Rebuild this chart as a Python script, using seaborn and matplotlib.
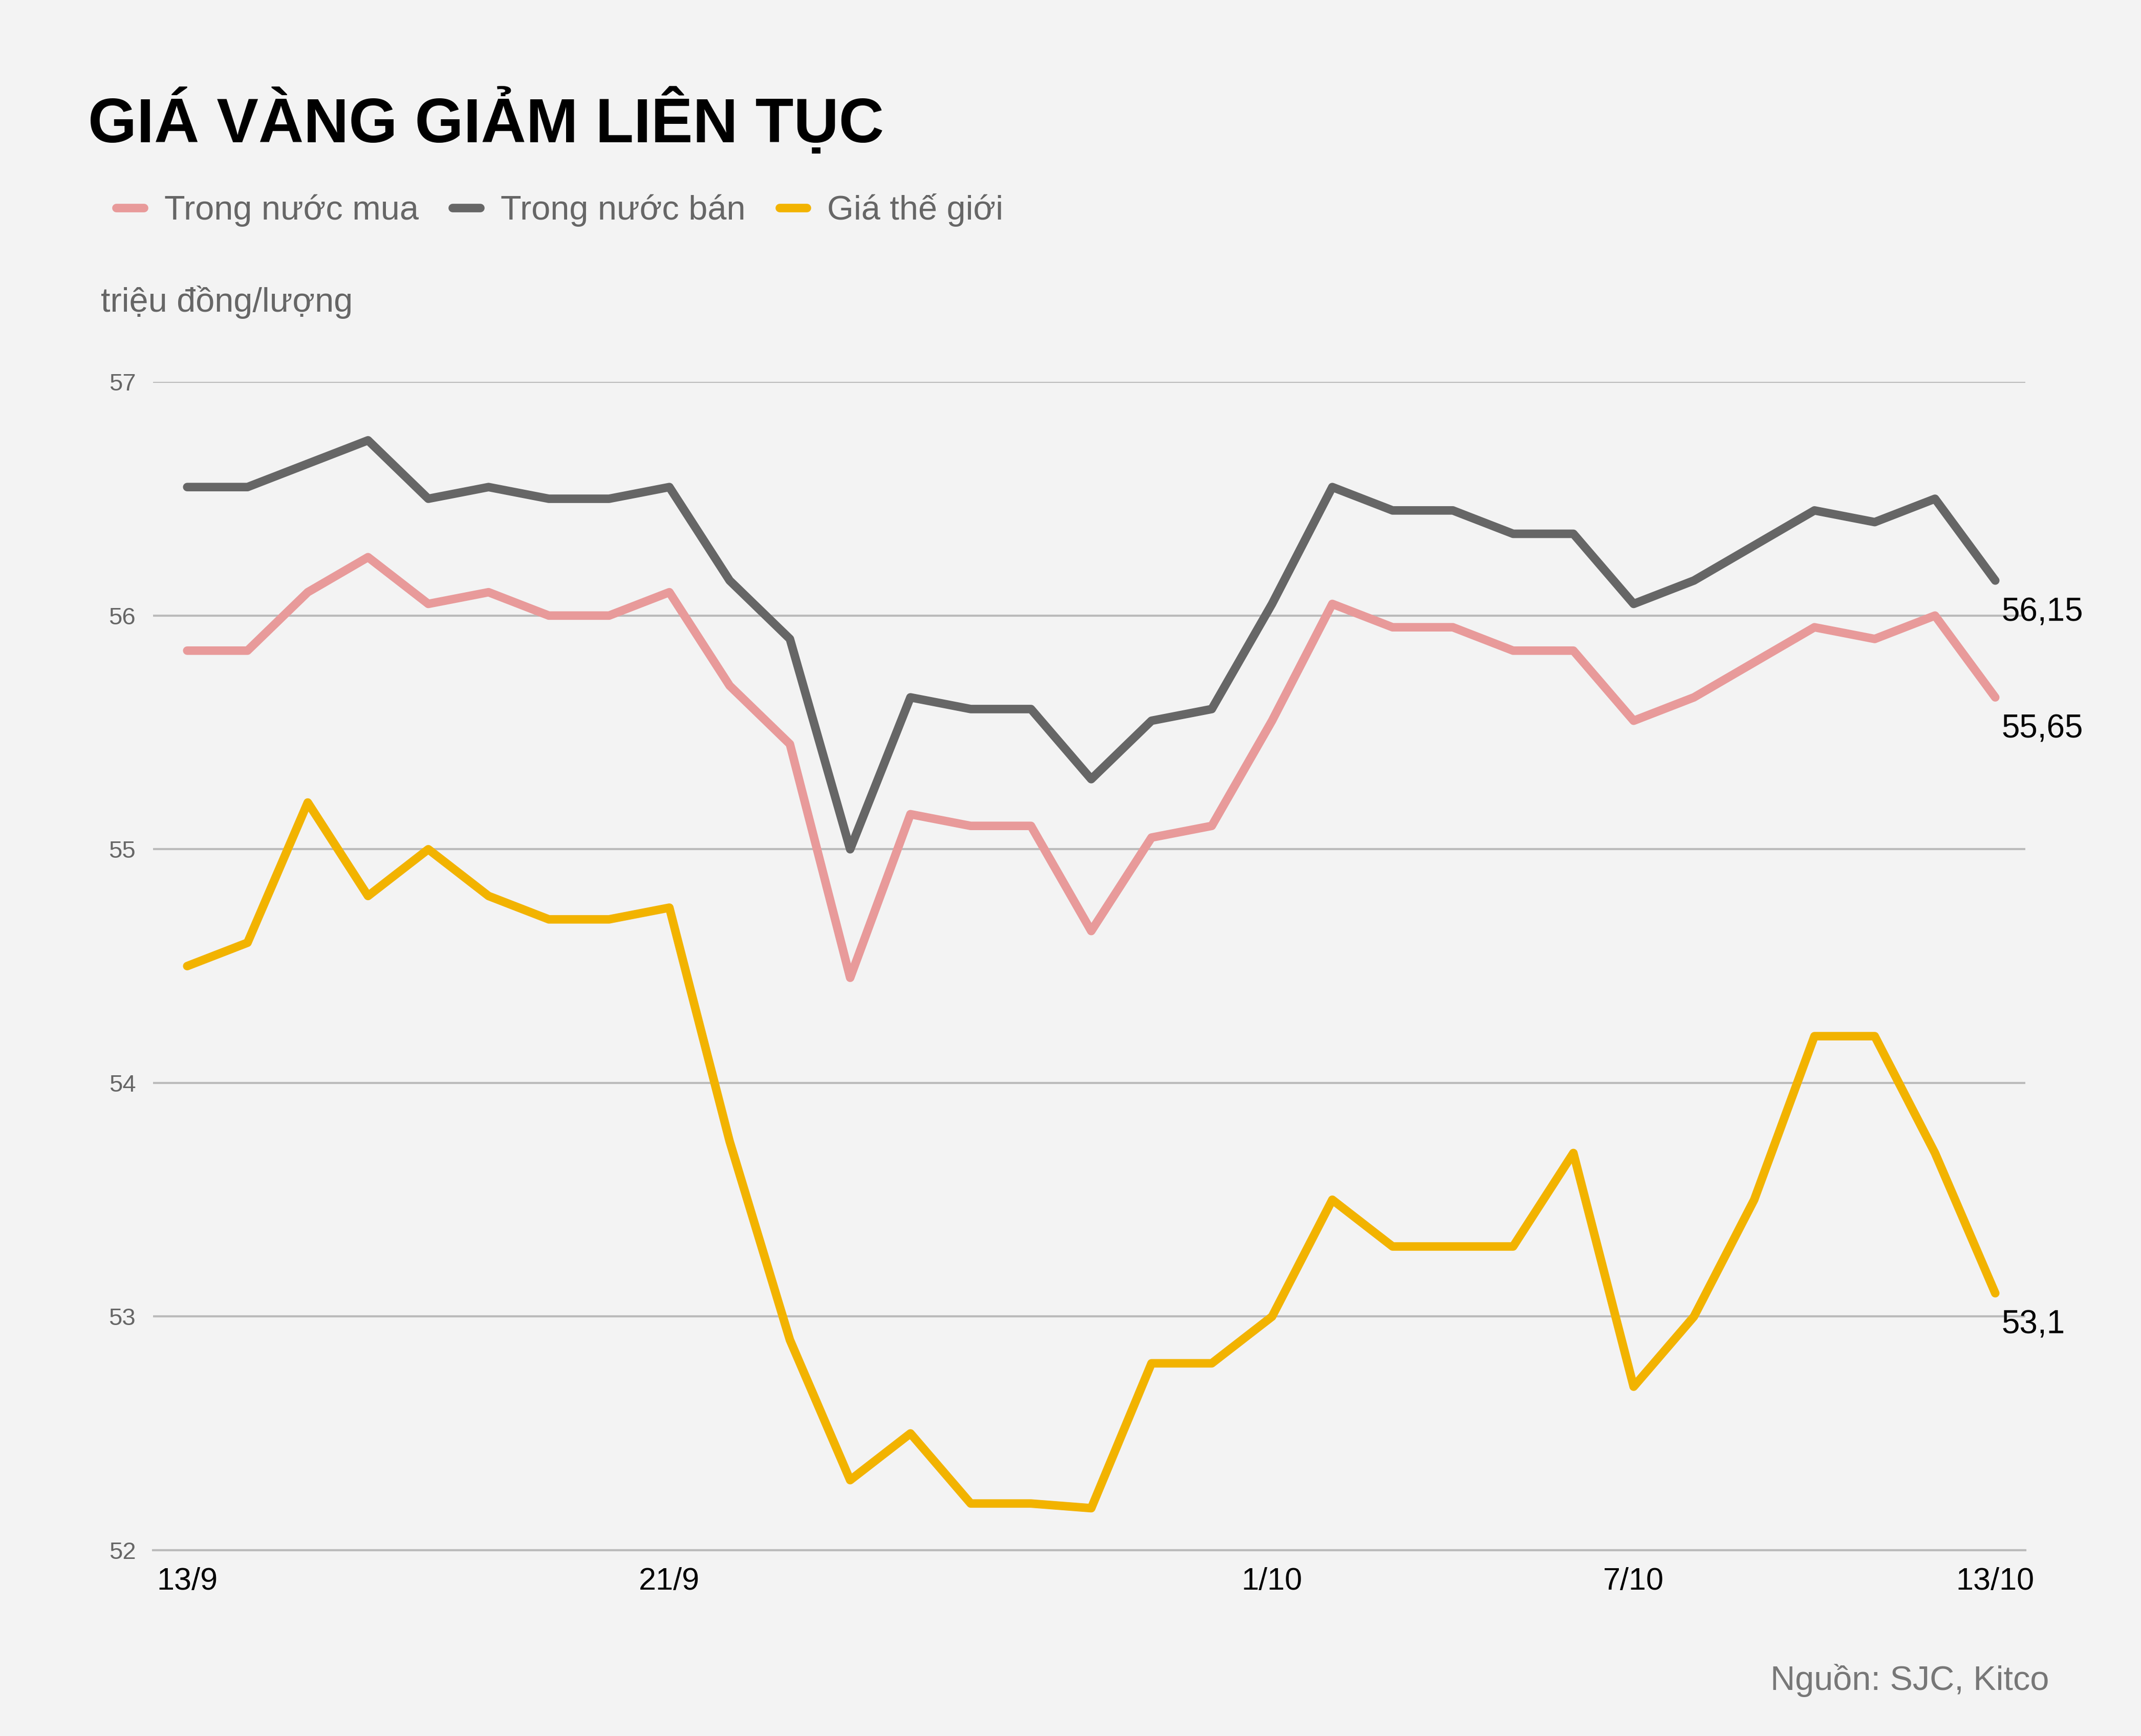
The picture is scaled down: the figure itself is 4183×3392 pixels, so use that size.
import matplotlib
matplotlib.use("Agg")
import matplotlib.pyplot as plt
import seaborn as sns
import pandas as pd

days = list(range(31))
tick_pos = [0, 8, 18, 24, 30]
tick_labels = ["13/9", "21/9", "1/10", "7/10", "13/10"]

mua = [55.85, 55.85, 56.1, 56.25, 56.05, 56.1, 56.0, 56.0, 56.1, 55.7, 55.45, 54.45, 55.15, 55.1, 55.1, 54.65,
       55.05, 55.1, 55.55, 56.05, 55.95, 55.95, 55.85, 55.85, 55.55, 55.65, 55.8, 55.95, 55.9, 56.0, 55.65]
ban = [56.55, 56.55, 56.65, 56.75, 56.5, 56.55, 56.5, 56.5, 56.55, 56.15, 55.9, 55.0, 55.65, 55.6, 55.6, 55.3,
       55.55, 55.6, 56.05, 56.55, 56.45, 56.45, 56.35, 56.35, 56.05, 56.15, 56.3, 56.45, 56.4, 56.5, 56.15]
the_gioi = [54.5, 54.6, 55.2, 54.8, 55.0, 54.8, 54.7, 54.7, 54.75, 53.75, 52.9, 52.3, 52.5, 52.2, 52.2, 52.18,
            52.8, 52.8, 53.0, 53.5, 53.3, 53.3, 53.3, 53.7, 52.7, 53.0, 53.5, 54.2, 54.2, 53.7, 53.1]

names = ["Trong nước mua", "Trong nước bán", "Giá thế giới"]
colors = ["#e89a9a", "#666666", "#f2b300"]

df = pd.DataFrame({"day": days * 3,
                   "value": mua + ban + the_gioi,
                   "series": [names[0]] * 31 + [names[1]] * 31 + [names[2]] * 31})

sns.set_theme(style="white")
plt.rcParams["font.family"] = ["Liberation Sans", "DejaVu Sans"]
bg = "#f3f3f3"

fig = plt.figure(figsize=(20.915, 16.96), dpi=200, facecolor=bg)
ax = fig.add_axes([0.0714, 0.107, 0.8746, 0.673], facecolor=bg)

sns.lineplot(data=df, x="day", y="value", hue="series", palette=dict(zip(names, colors)),
             linewidth=6, ax=ax, legend=False)

ax.set_xlim(-0.57, 30.5)
ax.set_ylim(52, 57)
ax.set_yticks([52, 53, 54, 55, 56, 57])
ax.set_yticklabels(["52", "53", "54", "55", "56", "57"])
ax.set_xticks(tick_pos)
ax.set_xticklabels(tick_labels)
ax.grid(axis="y", color="#bbbbbb", linewidth=1.5)
for s in ax.spines.values():
    s.set_visible(False)
ax.spines["bottom"].set_visible(True)
ax.spines["bottom"].set_color("#bbbbbb")
ax.spines["bottom"].set_linewidth(1.5)
ax.tick_params(axis="y", labelsize=17, colors="#666666", length=0, pad=12)
ax.tick_params(axis="x", labelsize=22, colors="black", length=0, pad=12)
ax.set_xlabel("")
ax.set_ylabel("")

for vals, txt in [(ban, "56,15"), (mua, "55,65"), (the_gioi, "53,1")]:
    ax.text(30.1, vals[-1] - 0.07, txt, fontsize=23, va="top", ha="left", color="black")

fig.text(0.041, 0.93, "GIÁ VÀNG GIẢM LIÊN TỤC", fontsize=44, fontweight="bold", va="center", color="black")
handles = [plt.Line2D([], [], color=c, linewidth=6) for c in colors]
leg = fig.legend(handles, names, loc="center left", bbox_to_anchor=(0.04, 0.879), ncol=3, frameon=False,
                 fontsize=24, handlelength=0.8, columnspacing=1.0, handletextpad=0.6)
for t in leg.get_texts():
    t.set_color("#666666")
fig.text(0.047, 0.826, "triệu đồng/lượng", fontsize=24, va="center", color="#666666")
fig.text(0.957, 0.032, "Nguồn: SJC, Kitco", fontsize=24, va="center", ha="right", color="#777777")

fig.savefig("out.png", dpi=200, facecolor=bg)
